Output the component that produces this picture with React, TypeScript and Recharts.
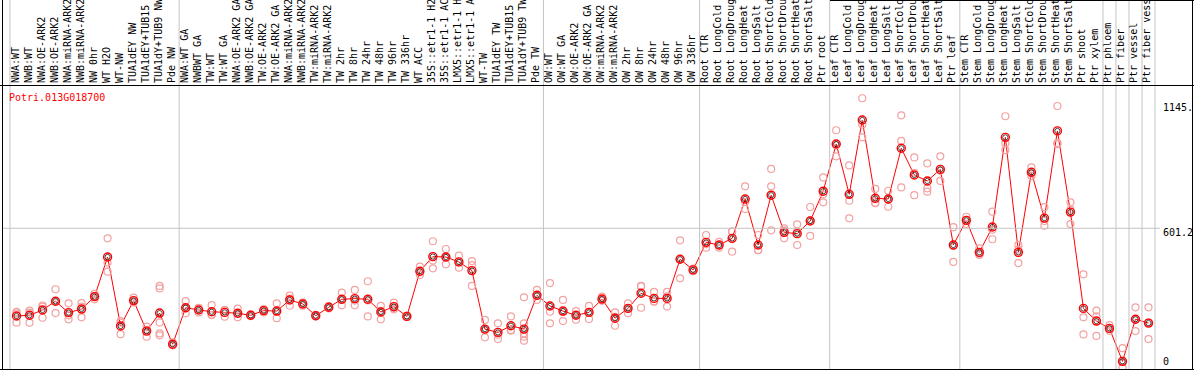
import React from "react";
import { ComposedChart, Line, XAxis, YAxis } from "recharts";

const geneId = "Potri.013G018700";

const categories = [
  "NWA:WT", "NWB:WT", "NWA:OE-ARK2", "NWB:OE-ARK2", "NWA:miRNA-ARK2", "NWB:miRNA-ARK2", "NW 0hr", "WT H2O", "WT-NW", "TUA1dEY NW", "TUA1dEY+TUB15 NW", "TUA1dY+TUB9 NW", "Pde NW",
  "NWA:WT GA", "NWBWT GA", "TW:WT", "TW:WT GA", "NWA:OE-ARK2 GA", "NWB:OE-ARK2 GA", "TW:OE-ARK2", "TW:OE-ARK2 GA", "NWA:miRNA-ARK2", "NWB:miRNA-ARK2", "TW:miRNA-ARK2", "TW:miRNA-ARK2", "TW 2hr", "TW 8hr", "TW 24hr", "TW 48hr", "TW 96hr", "TW 336hr", "WT ACC", "35S::etr1-1 H2O", "35S::etr1-1 ACC", "LMX5::etr1-1 H2O", "LMX5::etr1-1 ACC", "WT-TW", "TUA1dEY TW", "TUA1dEY+TUB15 TW", "TUA1dY+TUB9 TW", "Pde TW",
  "OW:WT", "OW:WT GA", "OW:OE-ARK2", "OW:OE-ARK2 GA", "OW:miRNA-ARK2", "OW:miRNA-ARK2", "OW 2hr", "OW 8hr", "OW 24hr", "OW 48hr", "OW 96hr", "OW 336hr",
  "Root CTR", "Root LongCold", "Root LongDrought", "Root LongHeat", "Root LongSalt", "Root ShortCold", "Root ShortDrought", "Root ShortHeat", "Root ShortSalt", "Ptr root",
  "Leaf CTR", "Leaf LongCold", "Leaf LongDrought", "Leaf LongHeat", "Leaf LongSalt", "Leaf ShortCold", "Leaf ShortDrought", "Leaf ShortHeat", "Leaf ShortSalt", "Ptr leaf",
  "Stem CTR", "Stem LongCold", "Stem LongDrought", "Stem LongHeat", "Stem LongSalt", "Stem ShortCold", "Stem ShortDrought", "Stem ShortHeat", "Stem ShortSalt", "Ptr shoot", "Ptr xylem",
  "Ptr phloem", "Ptr fiber", "Ptr vessel", "Ptr fiber vessel",
];

const groupSizes = [13, 28, 12, 10, 10, 11, 1, 1, 1, 1];

const means = [
  207, 210, 234, 273, 222, 238, 294, 472, 162, 276, 139, 220, 80,
  244, 234, 226, 223, 219, 210, 231, 229, 279, 261, 208, 246, 282, 285, 282, 225, 249, 205, 408, 474, 472, 450, 411, 148, 133, 163, 148, 300,
  252, 229, 210, 223, 283, 197, 241, 309, 286, 286, 462, 414,
  538, 526, 556, 733, 526, 750, 583, 577, 634, 768,
  980, 754, 1088, 736, 733, 961, 841, 814, 866, 526,
  637, 493, 607, 1010, 493, 853, 647, 1039, 674, 241, 184,
  151, 3, 192, 175,
];

const replicates = [
  [219, 177, 225], [231, 177, 222], [249, 199, 254], [327, 220, 272], [264, 192, 210], [265, 201, 249], [306, 282, 294], [556, 447, 406], [177, 125, 184], [289, 267, 272], [159, 114, 145], [342, 331, 178, 129, 120], [88, 75, 77],
  [274, 219, 240], [243, 223, 236], [256, 211, 212], [234, 204, 232], [240, 201, 216], [214, 206, 210], [238, 223, 231], [264, 197, 227], [298, 253, 285], [268, 253, 261], [212, 205, 208], [251, 241, 246], [312, 255, 279], [324, 255, 276], [363, 205, 277], [252, 192, 230], [267, 237, 243], [209, 202, 205], [429, 391, 403], [543, 421, 456], [508, 439, 469], [478, 424, 447], [454, 342, 436], [189, 111, 145], [174, 103, 123], [205, 144, 141], [291, 174, 129, 114, 96], [324, 279, 297],
  [355, 226, 174], [279, 184, 225], [229, 190, 211], [252, 193, 225], [294, 275, 281], [223, 163, 203], [264, 219, 241], [342, 244, 340], [315, 271, 273], [315, 249, 295], [547, 376, 462], [420, 408, 413],
  [571, 514, 530], [540, 514, 524], [586, 496, 586], [790, 688, 720], [571, 504, 503], [868, 790, 592], [601, 556, 592], [619, 526, 586], [697, 567, 638], [830, 718, 754],
  [1042, 925, 975], [884, 725, 646], [1186, 1010, 1068], [778, 714, 716], [770, 698, 730], [1109, 994, 785], [920, 851, 750], [893, 781, 766], [925, 814, 860], [606, 450, 522],
  [653, 620, 638], [511, 481, 487], [676, 595, 552], [1105, 983, 953], [526, 445, 505], [875, 836, 847], [696, 613, 634], [1151, 980, 985], [718, 620, 685], [394, 201, 124], [231, 117, 205],
  [166, 140, 148], [62, 0, -25], [246, 139, 191], [246, 103, 177],
];

const yTicks = [0, 601.2, 1145];
const yTickLabels = ["0", "601.2", "1145."];
const yDomain = [-31.5, 1245.5];

const MAX_REPS = 5;
const repKeys = Array.from({ length: MAX_REPS }, (_, k) => `r${k}`);

const data = categories.map((name, i) => {
  const row: any = { i, name, mean: means[i] };
  repKeys.forEach((k, j) => {
    row[k] = replicates[i][j] !== undefined ? replicates[i][j] : null;
  });
  return row;
});

const boundaries: number[] = [-0.5];
groupSizes.reduce((acc, s) => {
  const n = acc + s;
  boundaries.push(n - 0.5);
  return n;
}, 0);

const xTicks = [...categories.map((_, i) => i), ...boundaries];

const FONT = "'DejaVu Sans Mono', monospace";

const XTick = (props: any) => {
  const { x, payload } = props;
  const v = payload.value;
  if (Number.isInteger(v)) {
    const tx = x + 2;
    return (
      <g transform={`translate(${tx},83) rotate(-90)`}>
        <text x={0} y={0} fontFamily={FONT} fontSize={10} fill="#000" textAnchor="start">
          {categories[v]}
        </text>
      </g>
    );
  }
  return <line x1={x} x2={x} y1={0} y2={369} stroke="#c4c4c4" strokeWidth={1} />;
};

const YTick = (props: any) => {
  const { x, y, payload, index } = props;
  const idx = yTicks.indexOf(payload.value);
  const k = idx >= 0 ? idx : index;
  return (
    <g>
      {payload.value === 601.2 && (
        <line x1={2} x2={x - 3} y1={y} y2={y} stroke="#c4c4c4" strokeWidth={1} />
      )}
      <text x={x} y={y} dy={payload.value === 601.2 ? 8 : 3.5} fontFamily={FONT} fontSize={10} fill="#000" textAnchor="start">
        {yTickLabels[k]}
      </text>
    </g>
  );
};

const RepDot = (props: any) => {
  const { cx, cy, value } = props;
  if (cx == null || cy == null || value == null || Number.isNaN(cy)) return <g />;
  return <circle cx={cx} cy={cy} r={3.5} fill="none" stroke="#f2a2a2" strokeWidth={1.2} />;
};

const MeanDot = (props: any) => {
  const { cx, cy } = props;
  if (cx == null || cy == null) return <g />;
  return (
    <g>
      <circle cx={cx} cy={cy} r={4} fill="none" stroke="#ff0000" strokeWidth={1.4} />
      <circle cx={cx} cy={cy} r={2.6} fill="none" stroke="#000" strokeWidth={0.7} />
    </g>
  );
};

export default function App() {
  return (
    <div style={{ position: "relative", width: 1194, height: 370, background: "#fff" }}>
      <style>{`body{margin:0;}`}</style>
      <ComposedChart
        width={1194}
        height={370}
        data={data}
        margin={{ top: 0, left: 10, right: 0, bottom: 1 }}
      >
        <XAxis
          dataKey="i"
          type="number"
          orientation="top"
          height={85}
          domain={[-0.5, categories.length - 0.5]}
          ticks={xTicks}
          interval={0}
          tick={<XTick />}
          tickLine={false}
          axisLine={false}
          allowDataOverflow
        />
        <YAxis
          orientation="right"
          width={39}
          type="number"
          domain={yDomain}
          ticks={yTicks}
          interval={0}
          tick={<YTick />}
          tickLine={false}
          axisLine={false}
          allowDataOverflow
        />
        {repKeys.map((k) => (
          <Line
            key={k}
            dataKey={k}
            stroke="none"
            strokeWidth={0}
            dot={<RepDot />}
            activeDot={false}
            isAnimationActive={false}
            connectNulls={false}
            legendType="none"
          />
        ))}
        <Line
          dataKey="mean"
          stroke="#ff0000"
          strokeWidth={1}
          dot={<MeanDot />}
          activeDot={false}
          isAnimationActive={false}
        />
      </ComposedChart>
      <svg
        width={1194}
        height={370}
        style={{ position: "absolute", left: 0, top: 0, pointerEvents: "none" }}
      >
        <line x1={2.5} x2={2.5} y1={0} y2={370} stroke="#000" strokeWidth={1} />
        <line x1={0} x2={1194} y1={85.5} y2={85.5} stroke="#000" strokeWidth={1} />
        <line x1={0} x2={1194} y1={369.5} y2={369.5} stroke="#000" strokeWidth={1} />
        <line x1={1192.5} x2={1192.5} y1={0} y2={370} stroke="#000" strokeWidth={1} />
        <line x1={830} x2={1194} y1={0.5} y2={0.5} stroke="#000" strokeWidth={1} />
        <text x={9} y={101} fontFamily={FONT} fontSize={10} fill="#ff0000">
          {geneId}
        </text>
      </svg>
    </div>
  );
}
